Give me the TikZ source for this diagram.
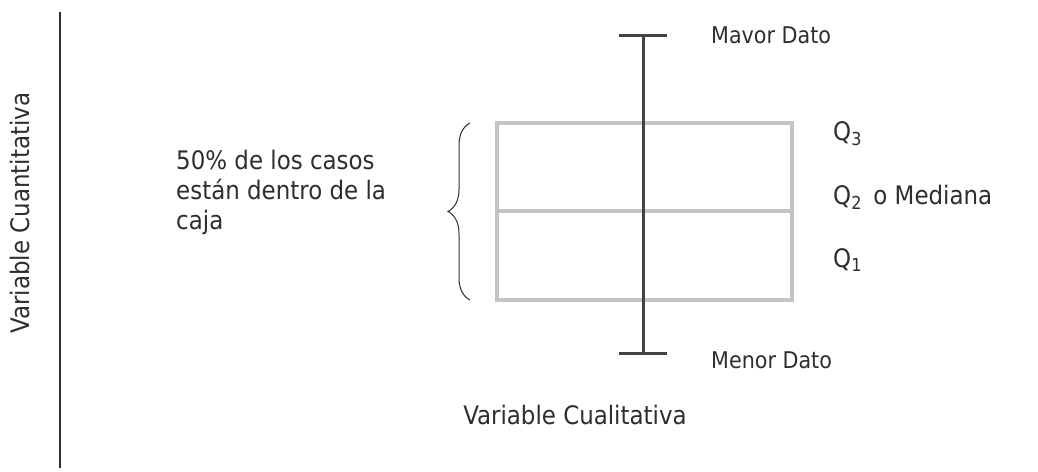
\documentclass[tikz,border=0pt]{standalone}
\usepackage{fontspec}
\setmainfont{DejaVu Sans Condensed}
\usetikzlibrary{positioning,decorations.pathreplacing}
\definecolor{grisCaja}{HTML}{C4C4C4}
\definecolor{grisTexto}{HTML}{2E2E2E}

\begin{document}
\begin{tikzpicture}[x=1pt, y=-1pt, text=grisTexto,
    caja/.style={draw=grisCaja, line width=4pt},
    bigote/.style={draw=grisTexto!90, line width=3pt},
    eje/.style={draw=grisTexto, line width=1.6pt},
    etiqueta/.style={font=\fontsize{25.5}{30}\selectfont, inner sep=0pt},
    dato/.style={font=\fontsize{23}{26}\selectfont, inner sep=0pt}]
  \useasboundingbox (0,0) rectangle (1038,471);
  % eje vertical
  \coordinate (ejeArriba) at (60,12);
  \coordinate (ejeAbajo) at (60,468);
  \draw[eje] (ejeArriba) -- (ejeAbajo);
  \node[etiqueta, rotate=90] (cuanti) at (20,213) {Variable Cuantitativa};
  % caja
  \coordinate (q3izq) at (497,123);
  \coordinate (q1der) at (792,300);
  \coordinate (medIzq) at (497,211);
  \coordinate (medDer) at (792,211);
  \draw[caja] (q3izq) rectangle (q1der);
  \draw[caja] (medIzq) -- (medDer);
  % bigotes
  \coordinate (mayor) at (643,35);
  \coordinate (menor) at (643,353);
  \draw[bigote] (mayor) -- (menor);
  \draw[bigote] ([xshift=-24pt]mayor) -- ([xshift=24pt]mayor);
  \draw[bigote] ([xshift=-24pt]menor) -- ([xshift=24pt]menor);
  \node[dato, anchor=west] (mayorDato) at (711,35) {Mavor Dato};
  \node[dato, anchor=west] (menorDato) at (711,360) {Menor Dato};
  % cuartiles
  \node[etiqueta, anchor=west] (q3) at (833,134) {Q\textsubscript{3}};
  \node[etiqueta, anchor=west] (q2) at (833,197) {Q\textsubscript{2}\hspace{0.45em}o Mediana};
  \node[etiqueta, anchor=west] (q1) at (833,260) {Q\textsubscript{1}};
  % llave
  \coordinate (llaveAbajo) at (470,300);
  \coordinate (llaveArriba) at (470,123);
  \draw[decorate, decoration={brace, amplitude=22pt}, line width=1pt, grisTexto]
    (llaveAbajo) -- (llaveArriba);
  \node[etiqueta, anchor=north west, align=left] (casos) at (176,150)
    {50\% de los casos\\están dentro de la\\caja};
  \node[etiqueta] (cuali) at (575,415) {Variable Cualitativa};
\end{tikzpicture}
\end{document}
